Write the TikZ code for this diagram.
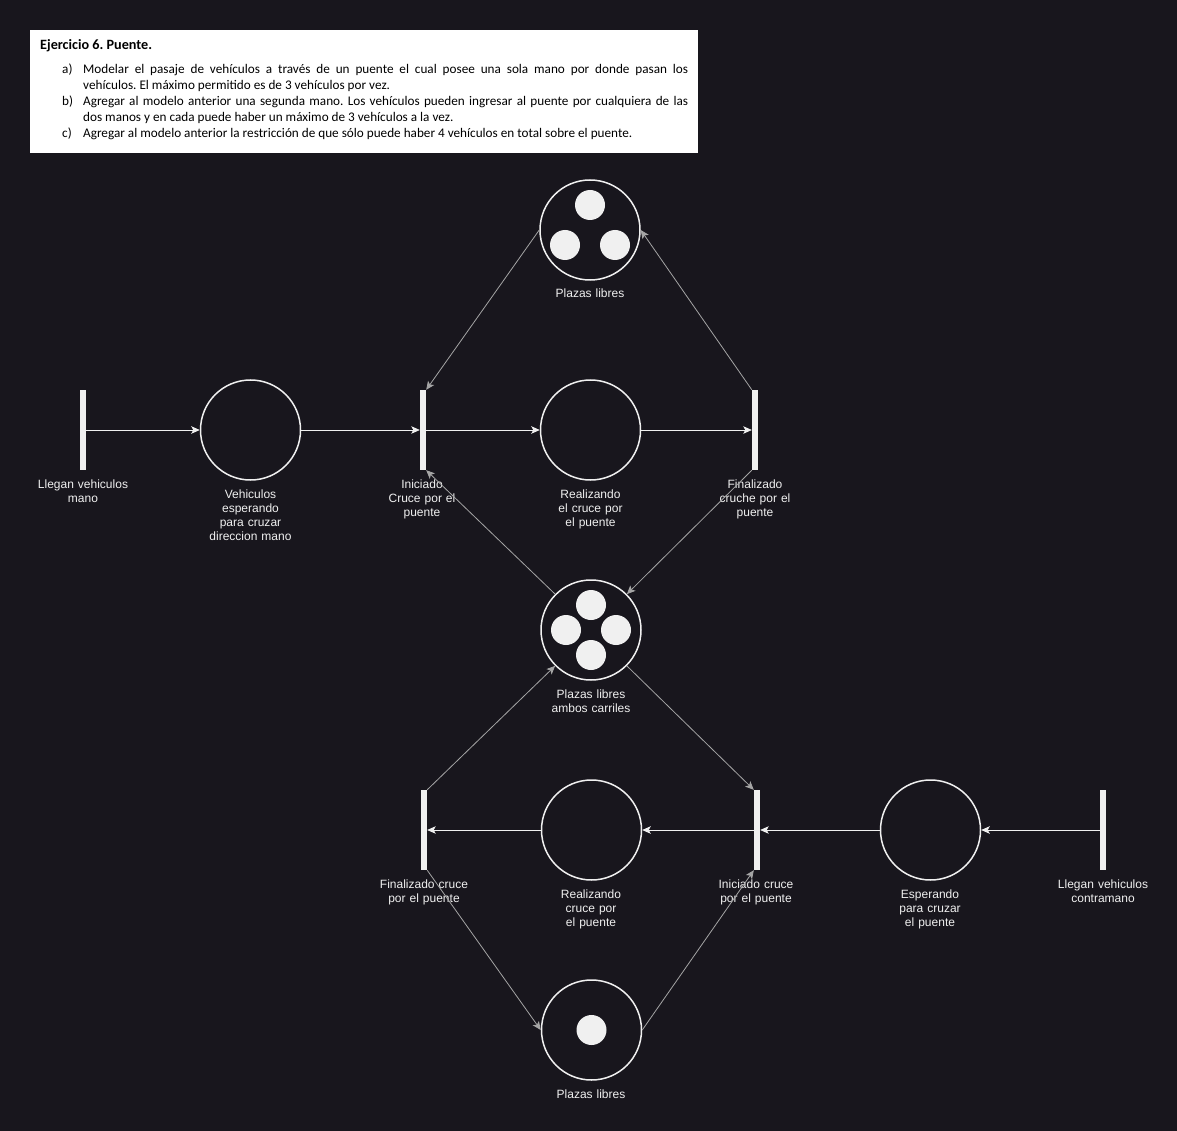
\documentclass[tikz,border=0pt]{standalone}
\usepackage{fontspec}
\setmainfont{Liberation Sans}
\newfontfamily\boxfont{Carlito}
\usetikzlibrary{arrows.meta}
\definecolor{bg}{RGB}{24,22,29}
\definecolor{fg}{RGB}{240,240,240}
\definecolor{diag}{RGB}{165,165,165}
\frenchspacing
\begin{document}
\begin{tikzpicture}[x=1pt,y=-1pt,
 place/.style={circle, draw=fg, line width=1.5pt, minimum size=100pt, inner sep=0pt},
 trans/.style={rectangle, fill=fg, minimum width=6pt, minimum height=80pt, inner sep=0pt},
 token/.style={circle, fill=fg, minimum size=30pt, inner sep=0pt},
 lbl/.style={text=fg, font=\fontsize{12}{14.3}\selectfont, text width=130pt, align=center, inner sep=0pt, anchor=base},
 arc/.style={draw=fg, line width=0.8pt, -{Stealth[length=8.5pt,width=7.5pt,inset=2pt]}},
 darc/.style={arc, draw=diag},
 body/.style={anchor=base west, inner sep=0pt, text=black, font=\boxfont\frenchspacing\fontsize{13.2}{16}\selectfont}]
\fill[bg] (0,0) rectangle (1177,1131);
\useasboundingbox (0,0) rectangle (1177,1131);

% exercise text box
\node[fill=white, minimum width=668pt, minimum height=123pt, anchor=north west, inner sep=0pt] (box) at (30,30) {};
\node[anchor=base west, inner sep=0pt, text=black, font=\boxfont\frenchspacing\bfseries\fontsize{14.2}{16}\selectfont] (title) at (40,49.5) {Ejercicio 6. Puente.};
\node[body] (la) at (62,73.5) {a)};
\node[body] (a1) at (83,73.5) {\makebox[605pt][s]{Modelar el pasaje de vehículos a través de un puente el cual posee una sola mano por donde pasan los}};
\node[body] (a2) at (83,89.5) {vehículos. El máximo permitido es de 3 vehículos por vez.};
\node[body] (lb) at (62,105.5) {b)};
\node[body] (b1) at (83,105.5) {\makebox[605pt][s]{Agregar al modelo anterior una segunda mano. Los vehículos pueden ingresar al puente por cualquiera de las}};
\node[body] (b2) at (83,121.5) {dos manos y en cada puede haber un máximo de 3 vehículos a la vez.};
\node[body] (lc) at (62,137.5) {c)};
\node[body] (c1) at (83,137.5) {Agregar al modelo anterior la restricción de que sólo puede haber 4 vehículos en total sobre el puente.};

% top free places
\node[place] (pTop) at (590,230) {};
\node[token] (tk1) at (590,205) {};
\node[token] (tk2) at (565,245) {};
\node[token] (tk3) at (615,245) {};
\node[lbl] (lTop) at (590,298) {Plazas libres};

% top row
\node[trans] (llegan) at (83,430) {};
\node[lbl] (lLlegan) at (83,488) {Llegan vehiculos\\mano};
\node[place] (esp) at (250.5,430) {};
\node[lbl] (lEsp) at (250.5,498) {Vehiculos\\esperando\\para cruzar\\direccion mano};
\node[trans] (ini) at (423,430) {};
\node[lbl] (lIni) at (422,488) {Iniciado\\Cruce por el\\puente};
\node[place] (real) at (590.5,430) {};
\node[lbl] (lReal) at (590.5,498) {Realizando\\el cruce por\\el puente};
\node[trans] (fin) at (755,430) {};
\node[lbl] (lFin) at (755,488) {Finalizado\\cruche por el\\puente};

% middle shared places
\node[place] (pMid) at (591,630) {};
\node[token] (tm1) at (591,605) {};
\node[token] (tm2) at (566,630) {};
\node[token] (tm3) at (616,630) {};
\node[token] (tm4) at (591,655) {};
\node[lbl] (lMid) at (591,698) {Plazas libres\\ambos carriles};

% bottom row
\node[trans] (finC) at (424,830) {};
\node[lbl] (lFinC) at (424,888) {Finalizado cruce\\por el puente};
\node[place] (real2) at (591.5,830) {};
\node[lbl] (lReal2) at (591,898) {Realizando\\cruce por\\el puente};
\node[trans] (iniC) at (757,830) {};
\node[lbl] (lIniC) at (756,888) {Iniciado cruce\\por el puente};
\node[place] (esp2) at (930.5,830) {};
\node[lbl] (lEsp2) at (930,898) {Esperando\\para cruzar\\el puente};
\node[trans] (contra) at (1103,830) {};
\node[lbl] (lContra) at (1103,888) {Llegan vehiculos\\contramano};

% bottom free places
\node[place] (pBot) at (591.5,1030) {};
\node[token] (tb1) at (591.5,1030) {};
\node[lbl] (lBot) at (591,1098) {Plazas libres};

% arcs
\draw[arc] (llegan.east) -- (esp.west);
\draw[arc] (esp.east) -- (ini.west);
\draw[arc] (ini.east) -- (real.west);
\draw[arc] (real.east) -- (fin.west);
\draw[darc] (pTop.west) -- (ini.north east);
\draw[darc] (fin.north west) -- (pTop.east);
\draw[darc] (pMid.north west) -- (ini.south east);
\draw[darc] (fin.south west) -- (pMid.north east);
\draw[darc] (finC.north east) -- (pMid.south west);
\draw[darc] (pMid.south east) -- (iniC.north west);
\draw[arc] (contra.west) -- (esp2.east);
\draw[arc] (esp2.west) -- (iniC.east);
\draw[arc] (iniC.west) -- (real2.east);
\draw[arc] (real2.west) -- (finC.east);
\draw[darc] (finC.south east) -- (pBot.west);
\draw[darc] (pBot.east) -- (iniC.south west);
\end{tikzpicture}
\end{document}
